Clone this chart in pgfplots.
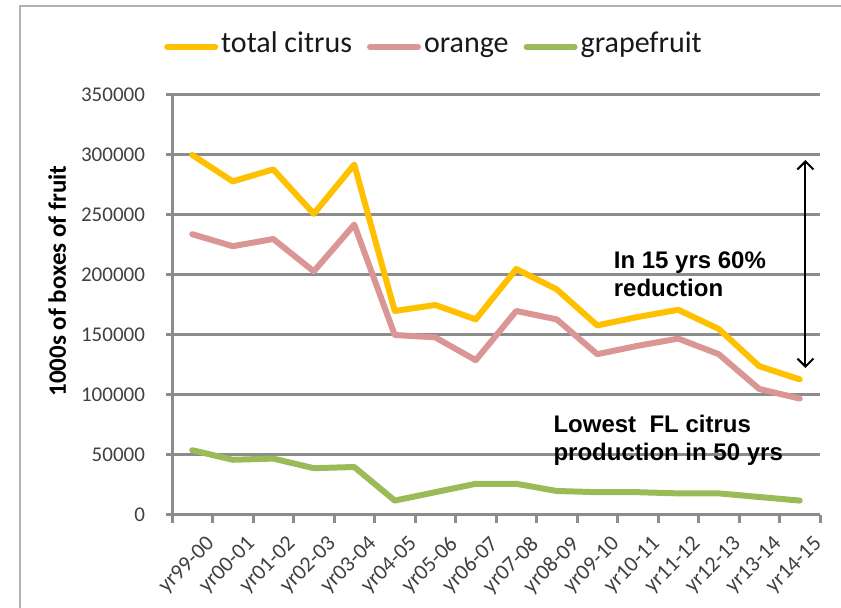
\documentclass[border=0pt]{standalone}
\usepackage{pgfplots}
\pgfplotsset{compat=1.18}
\usepackage{fontspec}
\setmainfont{Carlito}
\newfontfamily\arialfont{Liberation Sans}
\usetikzlibrary{arrows.meta}

\definecolor{totalc}{HTML}{FFC000}
\definecolor{orangec}{HTML}{D99694}
\definecolor{grapec}{HTML}{9BBB59}
\definecolor{gridc}{HTML}{8C8C8C}
\definecolor{txtc}{HTML}{404040}

\begin{document}
\begin{tikzpicture}
\begin{axis}[
    at={(86pt,46.5pt)}, anchor=south west,
    width=324pt, height=210pt, scale only axis,
    xmin=-0.5, xmax=15.5, ymin=0, ymax=350000,
    axis lines=left, axis line style={-, draw=gridc, line width=1.5pt},
    xtick={0,...,15},
    xticklabels={yr99-00,yr00-01,yr01-02,yr02-03,yr03-04,yr04-05,yr05-06,yr06-07,
                 yr07-08,yr08-09,yr09-10,yr10-11,yr11-12,yr12-13,yr13-14,yr14-15},
    major x tick style={draw=none},
    minor xtick={-0.5,0.5,...,15.5},
    minor x tick style={draw=gridc, line width=1.5pt},
    minor tick length=4pt,
    ytick={0,50000,...,350000},
    y tick style={draw=gridc, line width=1.5pt, xshift=3pt},
    major tick length=6pt,
    tick align=outside,
    scaled y ticks=false,
    /pgf/number format/assume math mode=true,
    yticklabel style={/pgf/number format/fixed, /pgf/number format/1000 sep={},
        font=\fontsize{10.5}{12}\selectfont, text=txtc, xshift=-4pt},
    xticklabel style={rotate=45, anchor=north east, font=\fontsize{11}{12}\selectfont,
        text=txtc, inner sep=1pt, xshift=3pt, yshift=-6pt},
    ymajorgrids, major grid style={draw=gridc, line width=1.5pt},
    ylabel={1000s of boxes of fruit},
    ylabel style={font=\bfseries\fontsize{12.5}{14}\selectfont,
        at={(axis description cs:-0.177,0.557)}, anchor=center},
    legend columns=3,
    legend style={at={(0.405,1.114)}, anchor=center, draw=none,
        font=\fontsize{15}{17}\selectfont, text=black!90,
        nodes={text depth=0.25em, text height=0.75em, inner xsep=1.5pt},
        /tikz/every even column/.append style={column sep=6pt}},
    legend image code/.code={\draw[#1] (0pt,0pt) -- (24pt,0pt);},
    every axis plot/.append style={line width=3pt, line join=round, line cap=round},
]
\addplot[color=totalc] coordinates {
    (0,300000) (1,278000) (2,288000) (3,251000) (4,292000) (5,170000)
    (6,175000) (7,163000) (8,205000) (9,188000) (10,158000) (11,165000)
    (12,171000) (13,155000) (14,124000) (15,113000)
};
\addlegendentry{total citrus}
\addplot[color=orangec] coordinates {
    (0,234000) (1,224000) (2,230000) (3,203000) (4,242000) (5,150000)
    (6,148000) (7,129000) (8,170000) (9,163000) (10,134000) (11,141000)
    (12,147000) (13,134000) (14,105000) (15,97000)
};
\addlegendentry{orange}
\addplot[color=grapec] coordinates {
    (0,54000) (1,46000) (2,47000) (3,39000) (4,40000) (5,12000)
    (6,19000) (7,26000) (8,26000) (9,20000) (10,19000) (11,19000)
    (12,18000) (13,18000) (14,15000) (15,12000)
};
\addlegendentry{grapefruit}

\draw[line width=1pt, {Straight Barb[length=4pt,width=8pt]}-{Straight Barb[length=4pt,width=8pt]}]
    (axis cs:15.14,295800) -- (axis cs:15.14,122500);
\node[anchor=north west, align=left, inner sep=0pt,
      font=\arialfont\bfseries\fontsize{12}{14}\selectfont]
    at (axis cs:10.4,220000) {In 15 yrs 60\%\\reduction};
\node[anchor=north west, align=left, inner sep=0pt,
      font=\arialfont\bfseries\fontsize{12}{14}\selectfont]
    at (axis cs:8.91,83300) {Lowest\ \ FL citrus\\production in 50 yrs};
\end{axis}
\draw[gray!60, line width=1pt] (10pt,0pt) -- (10pt,301pt) -- (420.5pt,301pt);
\pgfresetboundingbox
\path[use as bounding box] (0pt,0pt) rectangle (420.5pt,304pt);
\end{tikzpicture}
\end{document}
